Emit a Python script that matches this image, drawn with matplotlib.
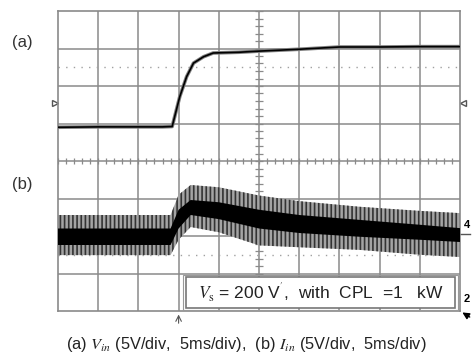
import matplotlib.pyplot as plt
import matplotlib.patheffects as pe
import numpy as np

plt.rcParams['font.family'] = ['Liberation Sans', 'DejaVu Sans']
plt.rcParams['mathtext.fontset'] = 'stix'
plt.rcParams['hatch.linewidth'] = 1.2

# trace (a): input voltage, in screen divisions
t_a = [0, 1, 2, 2.6, 2.84, 3.03, 3.2, 3.37, 3.62, 3.86, 4.5, 5, 6, 7, 8, 9, 10]
v_a = [4.90, 4.91, 4.91, 4.91, 4.92, 5.72, 6.25, 6.61, 6.78, 6.88, 6.90, 6.93, 6.98, 7.04, 7.04, 7.05, 7.05]

# trace (b): input current envelope, in screen divisions
t_b = [0, 2.8, 3.0, 3.3, 4.0, 5.0, 6.0, 7.5, 9.0, 10]
outer_hi = [2.56, 2.56, 3.10, 3.36, 3.30, 3.08, 2.93, 2.78, 2.67, 2.61]
core_hi = [2.20, 2.20, 2.70, 2.96, 2.90, 2.70, 2.56, 2.43, 2.30, 2.21]
core_lo = [1.76, 1.76, 2.20, 2.56, 2.45, 2.20, 2.08, 1.98, 1.90, 1.84]
outer_lo = [1.49, 1.49, 1.90, 2.24, 2.10, 1.75, 1.70, 1.63, 1.50, 1.44]

grid_col = '#8a8a8a'

fig = plt.figure(figsize=(4.73, 3.56), dpi=100)
ax = fig.add_axes([58 / 473, 45 / 356, 402 / 473, 300 / 356])
ax.set_xlim(0, 10)
ax.set_ylim(0, 8)
ax.set_xticks([])
ax.set_yticks([])
for s in ax.spines.values():
    s.set_color(grid_col)
    s.set_linewidth(1.2)

# graticule
for x in range(1, 10):
    ax.axvline(x, color=grid_col, lw=1.1, zorder=1)
for y in range(1, 8):
    ax.axhline(y, color=grid_col, lw=1.1, zorder=1)
minor = np.arange(0, 10.01, 0.2)
ax.vlines(minor, 4 - 0.07, 4 + 0.07, color=grid_col, lw=0.9, zorder=1)
minor_y = np.arange(0, 8.01, 0.2)
ax.hlines(minor_y, 5 - 0.09, 5 + 0.09, color=grid_col, lw=0.9, zorder=1)
ax.axhline(6.5, color='#a0a0a0', lw=1.0, ls=(0, (1, 4.5)), zorder=1)
ax.axhline(1.5, color='#a0a0a0', lw=1.0, ls=(0, (1, 4.5)), zorder=1)

# trace (b)
ax.fill_between(t_b, outer_lo, outer_hi, facecolor='#a4a4a4', edgecolor='#333333',
                hatch='||||', linewidth=0, zorder=2)
ax.fill_between(t_b, core_lo, core_hi, facecolor='black', linewidth=0, zorder=3)

# trace (a)
ax.plot(t_a, v_a, color='black', lw=1.2, zorder=4,
        path_effects=[pe.withStroke(linewidth=2.6, foreground='#808080')])

# annotation box
ax.add_patch(plt.Rectangle((3.18, 0.08), 6.7, 0.83, fc='white',
                           ec='#777777', lw=1.2, zorder=5))
ax.add_patch(plt.Rectangle((3.12, 0.03), 6.82, 0.93, fill=False,
                           ec='#999999', lw=0.8, zorder=5))
ax.text(6.53, 0.5, r"$V_{\mathrm{s}}$ = 200 V$^{'}$,  with  CPL  =1   kW",
        ha='center', va='center', fontsize=12.5, color='#222222', zorder=6)

# side markers
fig.text(22 / 473, 1 - 42 / 356, '(a)', fontsize=12, ha='center', va='center', color='#333333')
fig.text(22 / 473, 1 - 185 / 356, '(b)', fontsize=12, ha='center', va='center', color='#333333')
ax.plot([-0.07], [5.55], marker='>', markersize=4, mfc='white', mec='#555555',
        clip_on=False)
ax.plot([10.08], [5.55], marker='<', markersize=4, mfc='white', mec='#555555',
        clip_on=False)
fig.text(467 / 473, 1 - 225 / 356, '4', fontsize=8, fontweight='bold', ha='center', va='center')
ax.plot([10, 10.25], [2.05, 2.05], color='#555555', lw=1.0, clip_on=False)
fig.text(467 / 473, 1 - 299 / 356, '2', fontsize=8, fontweight='bold', ha='center', va='center')
ax.annotate('', xy=(10.0, 0.0), xytext=(10.3, -0.2),
            arrowprops=dict(arrowstyle='-|>', color='black', lw=1.0), annotation_clip=False)
ax.annotate('', xy=(3.0, -0.02), xytext=(3.0, -0.4),
            arrowprops=dict(arrowstyle='->', color='#555555', lw=0.8), annotation_clip=False)

fig.text(246 / 473, 1 - 345 / 356,
         r'(a) $V_{in}$ (5V/div,  5ms/div),  (b) $I_{in}$ (5V/div,  5ms/div)',
         fontsize=11.8, ha='center', va='center', color='#222222')

fig.savefig('out.png', dpi=100)
